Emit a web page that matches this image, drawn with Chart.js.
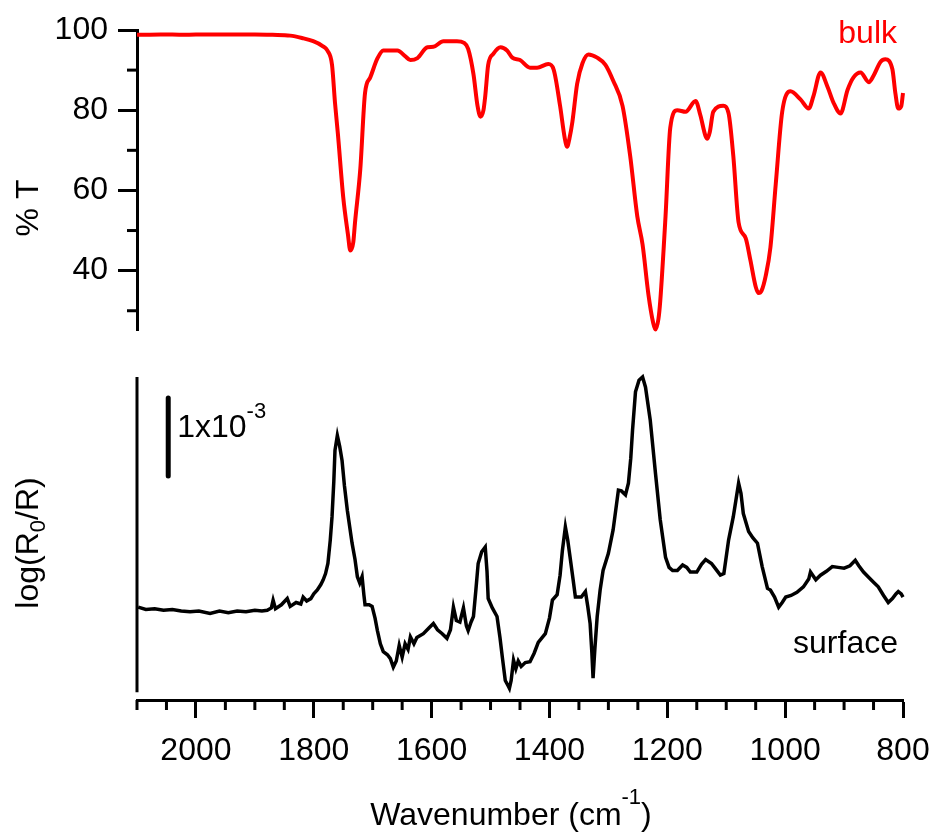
<!DOCTYPE html>
<html>
<head>
<meta charset="utf-8">
<title>Bulk vs surface IR spectra</title>
<script src="https://cdn.jsdelivr.net/npm/chart.js@4.4.1/dist/chart.umd.min.js"></script>
<style>
    body { margin: 0; background: #fff; }
    #wrap { position: relative; width: 935px; height: 834px; }
    #bulk-chart { position: absolute; left: 0; top: 0; }
    #surface-chart { position: absolute; left: 0; top: 360px; }
</style>
</head>
<body>
<div id="wrap">
    <canvas id="bulk-chart" width="935" height="360"></canvas>
    <canvas id="surface-chart" width="935" height="474"></canvas>
</div>
<script>
/* DATA */

// wavenumber axis (cm-1), drawn high -> low
const wnMin = 800;
const wnMax = 2100;
const wnMajorTicks = [800, 1000, 1200, 1400, 1600, 1800, 2000];
const wnMinorTicks = [2100, 2050, 1950, 1900, 1850, 1750, 1700, 1650, 1550, 1500, 1450,
                      1350, 1300, 1250, 1150, 1100, 1050, 950, 900, 850];

// %T axis
const tMin = 25;
const tMax = 100;
const tMajorTicks = [40, 60, 80, 100];
const tMinorTicks = [30, 50, 70, 90];

// bulk spectrum (%T)
const bulkWavenumber = [
    2100, 2060, 2020, 1980, 1940, 1900, 1870, 1840, 1820, 1801, 1785, 1777, 1769, 1764, 1759,
    1750, 1742, 1738, 1733, 1730, 1721, 1713, 1704, 1692, 1682, 1658, 1645, 1636, 1624, 1607,
    1597, 1580, 1557, 1545, 1538, 1529, 1522, 1517, 1512, 1509, 1504, 1495, 1483, 1472, 1463,
    1450, 1433, 1421, 1402, 1393, 1382, 1374, 1370, 1366, 1361, 1353, 1344, 1334, 1319, 1305,
    1292, 1276, 1263, 1251, 1242, 1232, 1224, 1220, 1215, 1212, 1203, 1195, 1183, 1169, 1152,
    1144, 1135, 1132, 1128, 1122, 1105, 1096, 1088, 1079, 1067, 1059, 1050, 1045, 1040, 1033,
    1025, 1016, 1005, 991, 974, 960, 952, 940, 928, 918, 906, 894, 884, 872, 858,
    850, 838, 830, 818, 813, 808, 803, 800
];
const bulkTransmittance = [
    98.8, 98.9, 98.8, 98.9, 98.9, 98.9, 98.8, 98.6, 98.0, 97.2, 96.0, 94.9, 91.3, 81.9, 74.0,
    58.3, 49.0, 45.0, 47.0, 52.0, 65.4, 84.3, 88.2, 92.9, 94.9, 94.9, 93.5, 92.5, 93.0, 95.7,
    95.8, 97.2, 97.2, 96.8, 95.3, 89.0, 81.0, 78.4, 80.0, 83.5, 91.3, 94.1, 95.7, 94.9, 93.1,
    92.5, 90.6, 90.6, 91.5, 90.2, 81.1, 73.0, 70.9, 73.0, 77.2, 86.6, 91.7, 93.9, 93.1, 91.3,
    87.4, 81.1, 68.6, 53.6, 46.5, 34.0, 27.0, 25.3, 28.0, 32.4, 53.6, 75.6, 80.0, 79.6, 82.3,
    78.8, 73.5, 72.9, 74.5, 79.6, 81.1, 79.2, 68.6, 52.0, 48.1, 42.6, 36.0, 34.4, 35.0, 38.7,
    45.8, 61.5, 79.6, 84.7, 82.7, 80.4, 83.5, 89.4, 85.8, 81.9, 79.2, 85.1, 88.2, 89.4, 87.0,
    88.6, 92.1, 92.7, 90.2, 84.3, 80.4, 81.0, 84.3
];

// surface spectrum, log(R0/R) in units of 1e-3
const surfaceMin = -0.1;
const surfaceMax = 4.04;
const surfaceWavenumber = [
    2098, 2085, 2070, 2055, 2040, 2025, 2010, 1995, 1976, 1960, 1945, 1930, 1915, 1900, 1888,
    1879, 1872, 1869, 1865, 1855, 1845, 1840, 1830, 1822, 1818, 1812, 1805, 1800, 1794, 1788,
    1784, 1780, 1776, 1772, 1769, 1766, 1764, 1760, 1756, 1752, 1748, 1743, 1735, 1730, 1726,
    1722, 1718, 1715, 1713, 1706, 1701, 1696, 1692, 1687, 1682, 1675, 1670, 1665, 1660, 1655,
    1650, 1645, 1640, 1636, 1630, 1625, 1614, 1605, 1597, 1590, 1582, 1574, 1568, 1563, 1558,
    1552, 1546, 1541, 1538, 1533, 1529, 1525, 1521, 1515, 1509, 1506, 1504, 1497, 1489, 1484,
    1480, 1475, 1470, 1468, 1465, 1461, 1457, 1453, 1448, 1441, 1433, 1426, 1419, 1407, 1400,
    1395, 1387, 1382, 1378, 1373, 1369, 1365, 1360, 1356, 1346, 1339, 1335, 1331, 1328, 1326,
    1323, 1319, 1314, 1309, 1300, 1292, 1283, 1278, 1271, 1266, 1262, 1259, 1254, 1248, 1242,
    1237, 1229, 1220, 1212, 1203, 1197, 1191, 1183, 1174, 1167, 1161, 1150, 1142, 1135, 1125,
    1118, 1110, 1104, 1096, 1088, 1079, 1075, 1071, 1062, 1055, 1047, 1039, 1030, 1025, 1018,
    1011, 1005, 999, 990, 980, 969, 960, 957, 948, 940, 930, 920, 910, 900, 890,
    881, 875, 867, 858, 850, 842, 833, 825, 818, 812, 808, 803, 800
];
const surfaceSignal = [
    1.09, 1.06, 1.07, 1.05, 1.06, 1.04, 1.03, 1.04, 1.01, 1.04, 1.02, 1.04, 1.03, 1.05, 1.04,
    1.05, 1.08, 1.18, 1.07, 1.12, 1.20, 1.10, 1.15, 1.13, 1.22, 1.17, 1.20, 1.26, 1.31, 1.38,
    1.44, 1.52, 1.65, 1.95, 2.25, 2.70, 3.10, 3.29, 3.15, 2.97, 2.65, 2.33, 1.91, 1.70, 1.48,
    1.40, 1.48, 1.25, 1.12, 1.12, 1.10, 0.95, 0.79, 0.62, 0.52, 0.48, 0.43, 0.32, 0.40, 0.60,
    0.45, 0.62, 0.55, 0.71, 0.62, 0.70, 0.75, 0.82, 0.88, 0.80, 0.75, 0.69, 0.80, 1.09, 0.92,
    0.90, 1.08, 0.85, 0.79, 0.90, 0.97, 1.30, 1.65, 1.80, 1.86, 1.55, 1.20, 1.08, 0.97, 0.70,
    0.45, 0.15, 0.08, 0.05, 0.15, 0.41, 0.30, 0.40, 0.33, 0.38, 0.39, 0.50, 0.64, 0.75, 0.95,
    1.18, 1.25, 1.50, 1.82, 2.12, 1.95, 1.73, 1.45, 1.22, 1.22, 1.29, 1.10, 0.88, 0.50, 0.18,
    0.55, 0.97, 1.31, 1.56, 1.78, 2.08, 2.59, 2.58, 2.53, 2.68, 3.00, 3.36, 3.85, 4.00, 4.04,
    3.91, 3.49, 2.80, 2.21, 1.73, 1.60, 1.56, 1.56, 1.63, 1.60, 1.54, 1.54, 1.64, 1.70, 1.65,
    1.58, 1.50, 1.52, 1.95, 2.25, 2.68, 2.55, 2.29, 2.06, 1.98, 1.91, 1.61, 1.33, 1.31, 1.22,
    1.09, 1.15, 1.22, 1.24, 1.28, 1.35, 1.45, 1.54, 1.44, 1.50, 1.55, 1.61, 1.60, 1.59, 1.62,
    1.69, 1.62, 1.54, 1.47, 1.41, 1.35, 1.24, 1.15, 1.20, 1.26, 1.29, 1.26, 1.22
];

// 1x10^-3 scale bar
const scaleBarWavenumber = 2047;
const scaleBarFrom = 2.77;
const scaleBarTo = 3.77;

/* STYLE */
const fontFamily = "'Liberation Sans', Arial, sans-serif";
Chart.defaults.font.family = fontFamily;
Chart.defaults.color = "#000";

// draw text made of runs (for super/subscripts)
function drawRuns(ctx, runs, x, y, align) {
    const widths = runs.map(r => {
        ctx.font = `${r.size}px ${fontFamily}`;
        return ctx.measureText(r.text).width;
    });
    const total = widths.reduce((a, b) => a + b, 0);
    let cx = align === "center" ? x - total / 2 : align === "right" ? x - total : x;
    ctx.textAlign = "left";
    ctx.textBaseline = "alphabetic";
    runs.forEach((r, i) => {
        ctx.font = `${r.size}px ${fontFamily}`;
        ctx.fillText(r.text, cx, y + (r.dy || 0));
        cx += widths[i];
    });
}

function strokeLine(ctx, x1, y1, x2, y2) {
    ctx.beginPath();
    ctx.moveTo(x1, y1);
    ctx.lineTo(x2, y2);
    ctx.stroke();
}

// short minor ticks, placed through the chart scales
const minorTicks = {
    id: "minorTicks",
    afterDraw(chart, args, opts) {
        const ctx = chart.ctx;
        const area = chart.chartArea;
        ctx.save();
        ctx.strokeStyle = "#000";
        ctx.lineWidth = 3;
        (opts.y || []).forEach(v => {
            const y = chart.scales.y.getPixelForValue(v);
            strokeLine(ctx, area.left - 10, y, area.left, y);
        });
        (opts.x || []).forEach(v => {
            const x = chart.scales.x.getPixelForValue(v);
            strokeLine(ctx, x, area.bottom, x, area.bottom + 10);
        });
        ctx.restore();
    }
};

const fixedAxisWidth = scale => { scale.width = 137; };

/* BULK CHART */
const bulkLabels = {
    id: "bulkLabels",
    afterDraw(chart) {
        const ctx = chart.ctx;
        ctx.save();
        ctx.fillStyle = "#000";
        ctx.translate(38, 208);
        ctx.rotate(-Math.PI / 2);
        drawRuns(ctx, [{ text: "% T", size: 32 }], 0, 0, "center");
        ctx.restore();

        ctx.save();
        ctx.fillStyle = "#ff0000";
        drawRuns(ctx, [{ text: "bulk", size: 32 }], chart.chartArea.right - 6, 43, "right");
        ctx.restore();
    }
};

function initBulkChart() {
    const ctx = document.getElementById("bulk-chart").getContext("2d");
    const points = bulkWavenumber.map((x, i) => ({ x: x, y: bulkTransmittance[i] }));

    new Chart(ctx, {
        type: "line",
        data: {
            datasets: [{
                data: points,
                borderColor: "#ff0000",
                borderWidth: 4,
                pointRadius: 0,
                cubicInterpolationMode: "monotone",
                clip: false
            }]
        },
        options: {
            responsive: false,
            animation: false,
            devicePixelRatio: 1,
            layout: { padding: { left: 0, right: 32, top: 30, bottom: 12 } },
            plugins: {
                legend: { display: false },
                tooltip: { enabled: false },
                minorTicks: { y: tMinorTicks }
            },
            scales: {
                x: {
                    type: "linear",
                    min: wnMin,
                    max: wnMax,
                    reverse: true,
                    display: false
                },
                y: {
                    min: tMin,
                    max: tMax,
                    afterFit: fixedAxisWidth,
                    afterBuildTicks: s => { s.ticks = tMajorTicks.map(v => ({ value: v })); },
                    border: { display: true, width: 3, color: "#000" },
                    grid: {
                        display: true,
                        drawOnChartArea: false,
                        drawTicks: true,
                        tickLength: 19,
                        tickWidth: 3,
                        tickColor: "#000"
                    },
                    ticks: {
                        padding: 10,
                        color: "#000",
                        font: { size: 32 },
                        callback: v => String(v)
                    }
                }
            }
        },
        plugins: [minorTicks, bulkLabels]
    });
}

/* SURFACE CHART */
const surfaceLabels = {
    id: "surfaceLabels",
    afterDraw(chart) {
        const ctx = chart.ctx;
        const area = chart.chartArea;
        const xs = chart.scales.x;
        const ys = chart.scales.y;
        ctx.save();
        ctx.fillStyle = "#000";
        ctx.strokeStyle = "#000";

        // y axis line stops at zero signal
        ctx.lineWidth = 3;
        strokeLine(ctx, area.left, ys.getPixelForValue(surfaceMax), area.left, ys.getPixelForValue(0));

        // scale bar
        const bx = xs.getPixelForValue(scaleBarWavenumber);
        const by1 = ys.getPixelForValue(scaleBarTo);
        const by2 = ys.getPixelForValue(scaleBarFrom);
        ctx.lineWidth = 5;
        ctx.lineCap = "round";
        strokeLine(ctx, bx, by1, bx, by2);
        drawRuns(ctx, [
            { text: "1x10", size: 32 },
            { text: "-3", size: 22, dy: -19 }
        ], bx + 9, (by1 + by2) / 2, "left");

        drawRuns(ctx, [{ text: "surface", size: 32 }], area.right - 5, 293, "right");

        // x title
        drawRuns(ctx, [
            { text: "Wavenumber (cm", size: 32 },
            { text: "-1", size: 22, dy: -21 },
            { text: ")", size: 32 }
        ], 511, 465, "center");

        // y title
        ctx.translate(38, 183);
        ctx.rotate(-Math.PI / 2);
        drawRuns(ctx, [
            { text: "log(R", size: 32 },
            { text: "0", size: 22, dy: 7 },
            { text: "/R)", size: 32 }
        ], 0, 0, "center");
        ctx.restore();
    }
};

function initSurfaceChart() {
    const ctx = document.getElementById("surface-chart").getContext("2d");
    const points = surfaceWavenumber.map((x, i) => ({ x: x, y: surfaceSignal[i] }));

    new Chart(ctx, {
        type: "line",
        data: {
            datasets: [{
                data: points,
                borderColor: "#000",
                borderWidth: 3.5,
                pointRadius: 0,
                tension: 0,
                clip: false
            }]
        },
        options: {
            responsive: false,
            animation: false,
            devicePixelRatio: 1,
            layout: { padding: { left: 0, right: 32, top: 17, bottom: 0 } },
            plugins: {
                legend: { display: false },
                tooltip: { enabled: false },
                minorTicks: { x: wnMinorTicks }
            },
            scales: {
                x: {
                    type: "linear",
                    min: wnMin,
                    max: wnMax,
                    reverse: true,
                    afterFit: scale => { scale.height = 134; },
                    afterBuildTicks: s => { s.ticks = wnMajorTicks.map(v => ({ value: v })); },
                    border: { display: true, width: 3, color: "#000" },
                    grid: {
                        display: true,
                        drawOnChartArea: false,
                        drawTicks: true,
                        tickLength: 18,
                        tickWidth: 3,
                        tickColor: "#000"
                    },
                    ticks: {
                        padding: 14,
                        color: "#000",
                        maxRotation: 0,
                        font: { size: 32 },
                        callback: v => String(v)
                    }
                },
                y: {
                    min: surfaceMin,
                    max: surfaceMax,
                    afterFit: fixedAxisWidth,
                    border: { display: false },
                    grid: { display: false },
                    ticks: { display: false }
                }
            }
        },
        plugins: [minorTicks, surfaceLabels]
    });
}

initBulkChart();
initSurfaceChart();
</script>
</body>
</html>
